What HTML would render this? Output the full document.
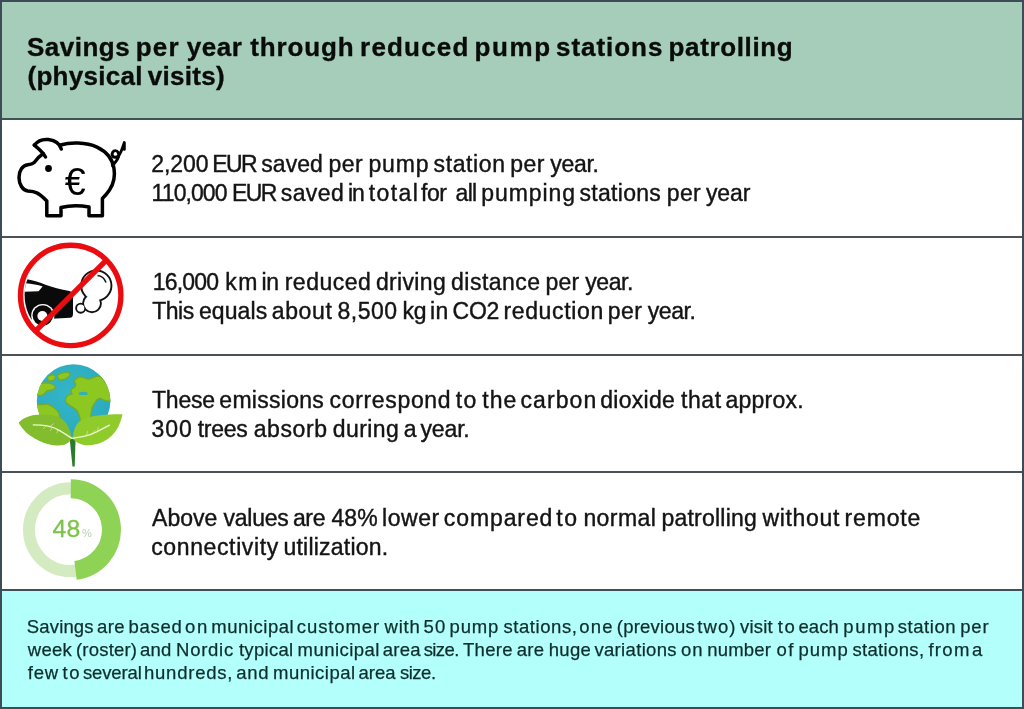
<!DOCTYPE html>
<html>
<head>
<meta charset="utf-8">
<style>
html,body{margin:0;padding:0;}
body{width:1024px;height:709px;position:relative;overflow:hidden;background:#fff;font-family:"Liberation Sans",Arial,sans-serif;}
.frame{position:absolute;left:0;top:0;width:1020px;height:705px;border:2px solid #3e4c57;}
.sec{position:absolute;left:2px;width:1020px;}
.hd{top:2px;height:116px;background:#a6cdb9;}
.ft{top:591px;height:116px;background:#b3fffb;}
.hl{position:absolute;left:2px;width:1020px;height:2px;background:#4a5258;}
.t{position:absolute;white-space:nowrap;}
.title{font-weight:700;font-size:26px;color:#0a0c0b;line-height:28px;-webkit-text-stroke:0.35px #0a0c0b;}
.body{font-size:23px;color:#141414;line-height:28px;-webkit-text-stroke:0.4px #141414;}
.foot{font-size:18.5px;color:#0e2e2e;line-height:22px;-webkit-text-stroke:0.25px #0e2e2e;}
.ic{position:absolute;}
.w{position:absolute;top:0;}
</style>
</head>
<body>
<div class="sec hd"></div>
<div class="sec ft"></div>
<div class="hl" style="top:118px;background:#3d5452"></div>
<div class="hl" style="top:236px"></div>
<div class="hl" style="top:354px"></div>
<div class="hl" style="top:471px"></div>
<div class="hl" style="top:589px;background:#3a5258"></div>
<div class="frame"></div>

<div class="t title" id="title1" style="left:0px;top:33.10px"><span class="w" id="title1_0" style="left:27.00px;letter-spacing:0.483px">Savings </span><span class="w" id="title1_1" style="left:135.70px;letter-spacing:1.200px">per </span><span class="w" id="title1_2" style="left:186.70px;letter-spacing:0.567px">year </span><span class="w" id="title1_3" style="left:250.20px;letter-spacing:0.883px">through </span><span class="w" id="title1_4" style="left:360.10px;letter-spacing:1.183px">reduced </span><span class="w" id="title1_5" style="left:474.60px;letter-spacing:1.600px">pump </span><span class="w" id="title1_6" style="left:556.00px;letter-spacing:0.957px">stations </span><span class="w" id="title1_7" style="left:668.50px;letter-spacing:0.644px">patrolling</span></div>
<div class="t title" id="title2" style="left:0px;top:62.00px"><span class="w" id="title2_0" style="left:27.50px;letter-spacing:0.288px">(physical </span><span class="w" id="title2_1" style="left:147.80px;letter-spacing:0.300px">visits)</span></div>

<div class="t body" id="r1a" style="left:0px;top:150.40px"><span class="w" id="r1a_0" style="left:151.30px;letter-spacing:-0.075px">2,200 </span><span class="w" id="r1a_1" style="left:212.20px;letter-spacing:-1.600px">EUR </span><span class="w" id="r1a_2" style="left:261.30px;letter-spacing:0.050px">saved </span><span class="w" id="r1a_3" style="left:328.50px;letter-spacing:0.400px">per </span><span class="w" id="r1a_4" style="left:368.50px;letter-spacing:0.833px">pump </span><span class="w" id="r1a_5" style="left:433.60px;letter-spacing:0.600px">station </span><span class="w" id="r1a_6" style="left:510.30px;letter-spacing:0.400px">per </span><span class="w" id="r1a_7" style="left:550.30px;letter-spacing:-0.325px">year.</span></div>
<div class="t body" id="r1b" style="left:0px;top:179.20px"><span class="w" id="r1b_0" style="left:151.60px;letter-spacing:-0.917px">110,000 </span><span class="w" id="r1b_1" style="left:232.10px;letter-spacing:-1.600px">EUR </span><span class="w" id="r1b_2" style="left:280.80px;letter-spacing:0.375px">saved </span><span class="w" id="r1b_3" style="left:348.00px;letter-spacing:-1.000px">in </span><span class="w" id="r1b_4" style="left:368.80px;letter-spacing:1.400px">total </span><span class="w" id="r1b_5" style="left:421.10px;letter-spacing:-0.550px">for </span><span class="w" id="r1b_6" style="left:455.60px;letter-spacing:-0.750px">all </span><span class="w" id="r1b_7" style="left:481.30px;letter-spacing:0.900px">pumping </span><span class="w" id="r1b_8" style="left:579.50px;letter-spacing:0.300px">stations </span><span class="w" id="r1b_9" style="left:666.70px;letter-spacing:0.400px">per </span><span class="w" id="r1b_10" style="left:706.00px;letter-spacing:-0.133px">year</span></div>

<div class="t body" id="r2a" style="left:0px;top:268.00px"><span class="w" id="r2a_0" style="left:152.70px;letter-spacing:-0.790px">16,000 </span><span class="w" id="r2a_1" style="left:225.22px;letter-spacing:1.600px">km </span><span class="w" id="r2a_2" style="left:261.50px;letter-spacing:-0.400px">in </span><span class="w" id="r2a_3" style="left:284.70px;letter-spacing:0.517px">reduced </span><span class="w" id="r2a_4" style="left:375.90px;letter-spacing:0.350px">driving </span><span class="w" id="r2a_5" style="left:451.00px;letter-spacing:0.500px">distance </span><span class="w" id="r2a_6" style="left:545.40px;letter-spacing:0.300px">per </span><span class="w" id="r2a_7" style="left:585.30px;letter-spacing:-0.425px">year.</span></div>
<div class="t body" id="r2b" style="left:0px;top:297.20px"><span class="w" id="r2b_0" style="left:152.20px;letter-spacing:-0.483px">This </span><span class="w" id="r2b_1" style="left:199.00px;letter-spacing:0.080px">equals </span><span class="w" id="r2b_2" style="left:271.70px;letter-spacing:0.650px">about </span><span class="w" id="r2b_3" style="left:337.60px;letter-spacing:0.450px">8,500 </span><span class="w" id="r2b_4" style="left:402.40px;letter-spacing:-0.100px">kg </span><span class="w" id="r2b_5" style="left:430.00px;letter-spacing:0.300px">in </span><span class="w" id="r2b_6" style="left:452.60px;letter-spacing:-0.250px">CO2 </span><span class="w" id="r2b_7" style="left:503.40px;letter-spacing:0.663px">reduction </span><span class="w" id="r2b_8" style="left:607.75px;letter-spacing:0.425px">per </span><span class="w" id="r2b_9" style="left:647.80px;letter-spacing:-0.450px">year.</span></div>

<div class="t body" id="r3a" style="left:0px;top:386.00px"><span class="w" id="r3a_0" style="left:152.00px;letter-spacing:-0.225px">These </span><span class="w" id="r3a_1" style="left:219.30px;letter-spacing:0.288px">emissions </span><span class="w" id="r3a_2" style="left:329.60px;letter-spacing:0.656px">correspond </span><span class="w" id="r3a_3" style="left:455.80px;letter-spacing:1.300px">to </span><span class="w" id="r3a_4" style="left:482.30px;letter-spacing:0.950px">the </span><span class="w" id="r3a_5" style="left:520.40px;letter-spacing:1.120px">carbon </span><span class="w" id="r3a_6" style="left:600.25px;letter-spacing:0.275px">dioxide </span><span class="w" id="r3a_7" style="left:680.90px;letter-spacing:0.633px">that </span><span class="w" id="r3a_8" style="left:725.50px;letter-spacing:0.250px">approx.</span></div>
<div class="t body" id="r3b" style="left:0px;top:415.00px"><span class="w" id="r3b_0" style="left:151.40px;letter-spacing:1.000px">300 </span><span class="w" id="r3b_1" style="left:197.70px;letter-spacing:-0.250px">trees </span><span class="w" id="r3b_2" style="left:253.70px;letter-spacing:0.600px">absorb </span><span class="w" id="r3b_3" style="left:332.75px;letter-spacing:0.410px">during </span><span class="w" id="r3b_4" style="left:403.80px;letter-spacing:0.000px">a </span><span class="w" id="r3b_5" style="left:420.50px;letter-spacing:-0.150px">year.</span></div>

<div class="t body" id="r4a" style="left:0px;top:504.00px"><span class="w" id="r4a_0" style="left:152.00px;letter-spacing:0.050px">Above </span><span class="w" id="r4a_1" style="left:223.40px;letter-spacing:-0.220px">values </span><span class="w" id="r4a_2" style="left:292.90px;letter-spacing:-0.350px">are </span><span class="w" id="r4a_3" style="left:331.40px;letter-spacing:0.150px">48% </span><span class="w" id="r4a_4" style="left:382.00px;letter-spacing:0.550px">lower </span><span class="w" id="r4a_5" style="left:443.80px;letter-spacing:0.900px">compared </span><span class="w" id="r4a_6" style="left:556.35px;letter-spacing:1.600px">to </span><span class="w" id="r4a_7" style="left:583.40px;letter-spacing:0.440px">normal </span><span class="w" id="r4a_8" style="left:661.40px;letter-spacing:0.233px">patrolling </span><span class="w" id="r4a_9" style="left:762.50px;letter-spacing:0.650px">without </span><span class="w" id="r4a_10" style="left:844.60px;letter-spacing:0.840px">remote</span></div>
<div class="t body" id="r4b" style="left:0px;top:533.00px"><span class="w" id="r4b_0" style="left:151.20px;letter-spacing:0.627px">connectivity </span><span class="w" id="r4b_1" style="left:283.40px;letter-spacing:0.236px">utilization.</span></div>

<div class="t foot" id="f1" style="left:0px;top:616.21px"><span class="w" id="f1_0" style="left:26.80px;letter-spacing:0.150px">Savings </span><span class="w" id="f1_1" style="left:97.10px;letter-spacing:0.400px">are </span><span class="w" id="f1_2" style="left:128.40px;letter-spacing:0.725px">based </span><span class="w" id="f1_3" style="left:185.05px;letter-spacing:1.600px">on </span><span class="w" id="f1_4" style="left:211.30px;letter-spacing:0.525px">municipal </span><span class="w" id="f1_5" style="left:296.80px;letter-spacing:0.900px">customer </span><span class="w" id="f1_6" style="left:384.50px;letter-spacing:0.800px">with </span><span class="w" id="f1_7" style="left:423.50px;letter-spacing:1.300px">50 </span><span class="w" id="f1_8" style="left:449.50px;letter-spacing:0.867px">pump </span><span class="w" id="f1_9" style="left:503.40px;letter-spacing:0.575px">stations, </span><span class="w" id="f1_10" style="left:579.30px;letter-spacing:1.150px">one </span><span class="w" id="f1_11" style="left:616.80px;letter-spacing:0.225px">(previous </span><span class="w" id="f1_12" style="left:697.20px;letter-spacing:1.100px">two) </span><span class="w" id="f1_13" style="left:740.00px;letter-spacing:0.200px">visit </span><span class="w" id="f1_14" style="left:777.80px;letter-spacing:1.600px">to </span><span class="w" id="f1_15" style="left:798.40px;letter-spacing:0.100px">each </span><span class="w" id="f1_16" style="left:843.30px;letter-spacing:1.567px">pump </span><span class="w" id="f1_17" style="left:897.75px;letter-spacing:0.542px">station </span><span class="w" id="f1_18" style="left:960.25px;letter-spacing:0.775px">per</span></div>
<div class="t foot" id="f2" style="left:0px;top:638.51px"><span class="w" id="f2_0" style="left:27.80px;letter-spacing:0.267px">week </span><span class="w" id="f2_1" style="left:76.00px;letter-spacing:0.200px">(roster) </span><span class="w" id="f2_2" style="left:140.10px;letter-spacing:0.200px">and </span><span class="w" id="f2_3" style="left:176.10px;letter-spacing:0.720px">Nordic </span><span class="w" id="f2_4" style="left:238.90px;letter-spacing:0.317px">typical </span><span class="w" id="f2_5" style="left:297.50px;letter-spacing:0.475px">municipal </span><span class="w" id="f2_6" style="left:382.75px;letter-spacing:0.250px">area </span><span class="w" id="f2_7" style="left:423.70px;letter-spacing:-0.600px">size. </span><span class="w" id="f2_8" style="left:463.00px;letter-spacing:0.300px">There </span><span class="w" id="f2_9" style="left:516.70px;letter-spacing:0.350px">are </span><span class="w" id="f2_10" style="left:548.70px;letter-spacing:0.333px">huge </span><span class="w" id="f2_11" style="left:594.40px;letter-spacing:0.333px">variations </span><span class="w" id="f2_12" style="left:680.90px;letter-spacing:1.100px">on </span><span class="w" id="f2_13" style="left:707.20px;letter-spacing:0.210px">number </span><span class="w" id="f2_14" style="left:776.50px;letter-spacing:1.400px">of </span><span class="w" id="f2_15" style="left:798.40px;letter-spacing:1.033px">pump </span><span class="w" id="f2_16" style="left:852.40px;letter-spacing:0.350px">stations, </span><span class="w" id="f2_17" style="left:928.40px;letter-spacing:1.300px">from </span><span class="w" id="f2_18" style="left:972.00px;letter-spacing:0.000px">a</span></div>
<div class="t foot" id="f3" style="left:0px;top:661.81px"><span class="w" id="f3_0" style="left:27.80px;letter-spacing:0.750px">few </span><span class="w" id="f3_1" style="left:62.50px;letter-spacing:1.600px">to </span><span class="w" id="f3_2" style="left:83.00px;letter-spacing:-0.150px">several </span><span class="w" id="f3_3" style="left:144.00px;letter-spacing:0.762px">hundreds, </span><span class="w" id="f3_4" style="left:236.30px;letter-spacing:0.750px">and </span><span class="w" id="f3_5" style="left:273.00px;letter-spacing:0.500px">municipal </span><span class="w" id="f3_6" style="left:358.50px;letter-spacing:0.000px">area </span><span class="w" id="f3_7" style="left:400.00px;letter-spacing:-0.500px">size.</span></div>

<svg class="ic" style="left:0;top:0" width="1024" height="709" viewBox="0 0 1024 709">
<defs>
<clipPath id="inner"><circle cx="70.8" cy="295.3" r="46.2"/></clipPath>
<clipPath id="globe"><circle cx="73.6" cy="401" r="36.8"/></clipPath>
</defs>
<!-- piggy bank -->
<g fill="none" stroke="#000" stroke-width="3.5" stroke-linecap="round" stroke-linejoin="round">
<path d="M34.3,145.2 C38,140.5 44,139 48.5,139.6 C54.5,140.4 59.5,143 61.3,149"/>
<path d="M34.3,145.2 C39,149 43,152.5 45.5,157"/>
<path d="M60.5,145 C70,142.2 86,142 97,147.2 C106,151.5 112.5,158.5 114,168.5 C115.2,176 113.5,184 109.5,190 C107.5,193 105,196 102.4,198.5 L102.4,215.7 L89,215.7 L89,207 C80,205.3 70,205.3 61,207.5 L61,215.7 L46.8,215.7 L46.8,201 C43.5,197.5 40.5,194.5 36.8,192.8 C34,191.5 31,191.2 28,191 C22.5,190.5 19,184 19,177.5 C19,170.5 22.5,165.5 27.8,164.8 C30.5,164.5 32.5,164 34.2,162.5 C37,158.8 39.8,155.8 43.2,153.5"/>
<path d="M112.6,165.8 C114.6,162.8 117.8,159.8 118.6,156.6 C119.3,153.6 117.8,150.6 115.4,150.6 C112.9,150.6 111.7,153.2 112.3,155.4 C113,157.8 116.6,157.8 118.8,155.4 C121.1,152.8 122.8,147.2 124.3,142.6 L124.3,149.4" stroke-width="2.9"/>
</g>
<circle cx="48.5" cy="168.5" r="3.4" fill="#000"/>
<text x="64.8" y="195" font-family="Liberation Sans, sans-serif" font-size="39" fill="#000" textLength="21" lengthAdjust="spacingAndGlyphs">€</text>

<!-- no car emissions -->
<g clip-path="url(#inner)">
<path d="M15,278 L27.2,279.2 C33,280 40,282.5 45.5,284.7 C52,287 61,289.5 69.4,291.1 C72,291.8 73,293.5 73,296 L73,314 C73,316.5 72,317.6 70,317.8 L56.5,318.5 L15,320 Z" fill="#0a0a0a"/>
<path d="M15,283 L25.3,283.2 C32,283.8 38,284.8 42.6,286.4 L38.6,291.3 L15,292.2 Z" fill="#fff"/>
<circle cx="42.8" cy="315.5" r="11.6" fill="#fff"/>
<circle cx="42.8" cy="315.5" r="10.2" fill="#0a0a0a"/>
<circle cx="42.4" cy="316" r="5" fill="#fff"/>
</g>
<g fill="none" stroke="#111" stroke-width="3.8">
<circle cx="96.3" cy="285.6" r="14.2"/>
<circle cx="92" cy="303.3" r="8"/>
<circle cx="80.7" cy="308.2" r="3.6"/>
</g>
<g fill="#fff">
<circle cx="96.3" cy="285.6" r="14.2"/>
<circle cx="92" cy="303.3" r="8"/>
<circle cx="80.7" cy="308.2" r="3.6"/>
</g>
<path d="M97.5,275.5 C101,275.8 104.5,278.5 106,282.5" fill="none" stroke="#111" stroke-width="1.6"/>
<circle cx="70.7" cy="295.4" r="50.2" fill="none" stroke="#eb0c10" stroke-width="5.4"/>
<line x1="106.9" y1="259.7" x2="35.2" y2="331.4" stroke="#eb0c10" stroke-width="5.4"/>

<!-- globe -->
<defs>
<radialGradient id="oc" cx="0.45" cy="0.4" r="0.65"><stop offset="0" stop-color="#33b6c8"/><stop offset="1" stop-color="#2aa9bd"/></radialGradient>
</defs>
<circle cx="73.6" cy="401" r="36.8" fill="url(#oc)"/>
<g clip-path="url(#globe)" fill="#8cc81f" stroke="#74aa2c" stroke-width="1.3" stroke-linejoin="round">
<path d="M57.1,375.4 C59,374 61.5,372.8 64,372.6 C66,372.4 68.5,372.3 69.8,372.8 C70.2,374.5 69.6,376 68.6,376.8 C67,378 65.5,379.2 63.6,379.6 C62,380 60.5,380.2 59.4,379.8 C58.5,378.5 57.6,377 57.1,375.4 Z"/>
<path d="M47.6,376.8 C49,375.6 51,374.6 53,374.8 C54.5,375 55.6,376 55.4,377.2 C55,378.6 54.2,379.8 53.4,380.4 C51.8,380.8 50,380.8 48.6,380.4 C47.8,379.4 47.4,378 47.6,376.8 Z"/>
<path d="M36,384.2 C38,383.6 40,383.2 42.5,383 C45,382.8 48,382.6 50.5,383.4 C52.5,384 54.6,385 55.4,386.8 C55,388.4 53.6,389.4 52,389.8 C50,390.3 48,390.4 46.9,391 C45.8,392.2 45,393.4 43.8,394.4 C42.4,395.4 40.6,395.8 39.2,395.6 C37.5,395 36.4,394.2 36,393.5 Z"/>
<path d="M36,404.6 C38,404.6 40,404.8 42,404.6 C44,404.2 46,403.8 48,404.4 C50.5,405.2 52.6,406.4 54.4,408 C56.3,409.6 58,411 58.9,413 C59.8,415.5 60.3,418.5 60.6,422 L36,422 Z"/>
<path d="M75.6,383.8 C74.6,382.6 74.2,381.2 74.6,380 C76,378.6 77.6,377.3 79.4,377 C82,376.6 85,378.2 88,379 C90.5,379.6 93,377.6 95.8,376.4 C98,375.6 100.6,376.6 102.6,378.4 C104.8,380.4 106.6,383.2 108.2,386 C109.6,389 110.6,393 111.2,397 L111.2,401 C109,401.2 106.6,401 104.6,400.4 C102.6,399.6 101,398.2 99.4,398.4 C97.4,398.8 96.2,400.6 95.2,402.4 C93.8,404.4 92.4,406 92,408.2 C91.6,410.6 91.4,412.6 91,414.6 C90.6,417 89.8,419.6 89.2,422 L80.8,422 C80,418.4 79.2,414.4 77.6,411.2 C75.6,408.6 72.6,407.2 70,405.6 C67.6,404 65.6,402.6 65.4,400.6 C65.4,398.6 66.4,396.8 67.6,395.6 C69,394.4 70.8,394.2 72.2,393.8 C71.4,392.6 70.6,391.4 70.8,390.2 C71.6,388.6 73.4,387.8 74.8,387 C75.6,386 75.8,385 75.6,383.8 Z"/>
</g>
<ellipse cx="83.2" cy="393.4" rx="4.6" ry="1.6" fill="#2eafc2"/>
<path d="M69.6,438 L75.6,438 L74.7,466.6 L72.5,466.6 Z" fill="#2c7a2e"/>
<path d="M18.6,422.7 C22,418.8 27,416.6 32.5,415.3 C38,414.3 44,414.2 49.5,414.8 C55,415.5 60,417 63.6,420.2 C67.6,424 70.2,430 71.6,437.8 C70.6,441 68,443.6 64.4,444.8 C60,446 54.5,445.8 49.5,444.6 C42,442.8 35.5,439.6 30,435.6 C25.4,432.2 21.6,427.8 18.6,422.7 Z" fill="#81bd2c"/>
<path d="M122.4,414.2 C116,414 108,414.4 100,415.2 C92,416 85.5,417.6 80.5,420.6 C76,424 73.6,429.6 72.6,438.4 C75,441.6 79.6,444.2 85,445.2 C91,445.8 97.5,444.6 103.5,441.6 C109.5,438.4 114.6,433.4 118,427.4 C120,423.4 121.6,418.8 122.4,414.2 Z" fill="#8ecb2b"/>
<g fill="none" stroke="#eef8cf" stroke-linecap="round">
<path d="M33.3,424.9 C39,425 44,425.4 47.2,425.9 C52,426.8 56.5,428.6 60.1,430.8 C64,433.2 68,435.8 72,438.4" stroke-width="1.4"/>
<path d="M72.8,438.4 C76,437.6 80.5,436.8 84.8,436.1 C89,435.4 93,433.8 96.6,431.9 C100.8,429.8 105,427.6 109.5,425.2" stroke-width="1.4"/>
<path d="M46,425.8 L43.5,428.6 M52.5,427.3 L50.5,430.6 M58,429.7 L56.8,433 M50,426.5 L53.5,423.8 M86.2,435.8 L87.6,431.4 M97.5,431.6 L98.3,427 M92,433.8 L94.8,430.4" stroke-width="0.9" stroke-opacity="0.55"/>
</g>

<!-- donut -->
<circle cx="70.4" cy="529.7" r="41.4" fill="none" stroke="#d4ebc2" stroke-width="12"/>
<path d="M70.8,488.7 A41 41 0 0 1 75.54,570.38" fill="none" stroke="#8ed356" stroke-width="19"/>
<text x="52.6" y="537.2" font-family="Liberation Sans, sans-serif" font-size="24" fill="#7cc348" stroke="#7cc348" stroke-width="0.3" textLength="27.6" lengthAdjust="spacingAndGlyphs">48</text>
<text x="82" y="537.4" font-family="Liberation Sans, sans-serif" font-size="11.5" fill="#bccfb6" textLength="9.8" lengthAdjust="spacingAndGlyphs">%</text>
</svg>

</body>
</html>
